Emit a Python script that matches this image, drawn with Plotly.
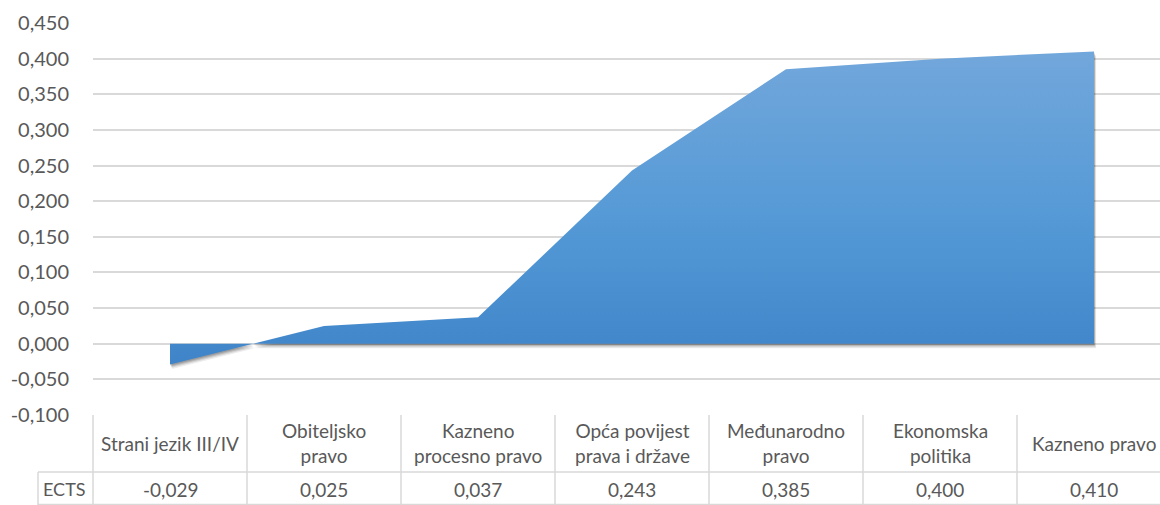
import plotly.graph_objects as go

# Subjects and their ECTS correlation values
categories = [
    "Strani jezik III/IV",
    "Obiteljsko<br>pravo",
    "Kazneno<br>procesno pravo",
    "Opća povijest<br>prava i države",
    "Međunarodno<br>pravo",
    "Ekonomska<br>politika",
    "Kazneno pravo",
]
ects_values = [-0.029, 0.025, 0.037, 0.243, 0.385, 0.400, 0.410]
series_name = "ECTS"
y_ticks = [-0.100, -0.050, 0.000, 0.050, 0.100, 0.150, 0.200, 0.250,
           0.300, 0.350, 0.400, 0.450]

FONT = "Lato"
TEXT = "#595959"
GRID = "#d9d9d9"

W, H = 1160, 505
L, R, T, B = 93, 0, 23, 90
plot_w = W - L - R
plot_h = H - T - B
COL_W = 154  # width of one category column; the last column runs past the right edge


def fmt(v):
    return f"{v:.3f}".replace(".", ",")


def px_x(px):
    return (px - L) / plot_w


def px_y(py):
    return (H - B - py) / plot_h


idx = list(range(len(categories)))
fig = go.Figure()

# soft drop shadow under the area (layers of offset translucent polygons)
poly_x = idx + idx[::-1]
poly_y = ects_values + [0.0] * len(idx)
for dx, dy, a in [(0.014, -0.0065, 0.07), (0.010, -0.0048, 0.10),
                  (0.006, -0.0032, 0.13), (0.003, -0.0018, 0.15)]:
    fig.add_trace(go.Scatter(
        x=[v + dx for v in poly_x], y=[v + dy for v in poly_y],
        mode="lines", fill="toself", line=dict(width=0),
        fillcolor=f"rgba(0,0,0,{a})", hoverinfo="skip", showlegend=False,
    ))

# main area with vertical gradient
fig.add_trace(go.Scatter(
    x=poly_x, y=poly_y, mode="lines", fill="toself",
    line=dict(width=0, color="#5b9bd5"),
    fillgradient=dict(type="vertical",
                      colorscale=[[0, "#3f84c8"], [0.45, "#5499d6"], [1, "#72a7db"]]),
    name=series_name, showlegend=False,
))

shapes = []
top_py, mid_py, bot_py = H - B, 472, 505
line_style = dict(color=GRID, width=1.5)
# horizontal rules of the data table
shapes.append(dict(type="line", xref="paper", yref="paper", x0=px_x(38), x1=px_x(W),
                   y0=px_y(mid_py), y1=px_y(mid_py), line=line_style))
shapes.append(dict(type="line", xref="paper", yref="paper", x0=px_x(38), x1=px_x(W),
                   y0=px_y(bot_py - 0.5), y1=px_y(bot_py - 0.5), line=line_style))
shapes.append(dict(type="line", xref="paper", yref="paper", x0=px_x(38), x1=px_x(38),
                   y0=px_y(mid_py), y1=px_y(bot_py), line=line_style))
for k in range(len(categories)):
    xp = px_x(L + k * COL_W)
    shapes.append(dict(type="line", xref="paper", yref="paper", x0=xp, x1=xp,
                       y0=px_y(top_py), y1=px_y(bot_py), line=line_style))

annotations = []
for k, (cat, v) in enumerate(zip(categories, ects_values)):
    xc = px_x(L + (k + 0.5) * COL_W)
    annotations.append(dict(text=cat, xref="paper", yref="paper", x=xc,
                            y=px_y((top_py + mid_py) / 2), xanchor="center", yanchor="middle",
                            showarrow=False, font=dict(family=FONT, size=19, color=TEXT)))
    annotations.append(dict(text=fmt(v), xref="paper", yref="paper", x=xc,
                            y=px_y((mid_py + bot_py) / 2 + 0.5), xanchor="center", yanchor="middle",
                            showarrow=False, font=dict(family=FONT, size=19, color=TEXT)))
annotations.append(dict(text=series_name, xref="paper", yref="paper", x=px_x(64),
                        y=px_y((mid_py + bot_py) / 2 + 0.5), xanchor="center", yanchor="middle",
                        showarrow=False, font=dict(family=FONT, size=18, color=TEXT)))

fig.update_layout(
    width=W, height=H,
    margin=dict(l=L, r=R, t=T, b=B),
    paper_bgcolor="white", plot_bgcolor="white",
    showlegend=False,
    shapes=shapes, annotations=annotations,
    xaxis=dict(range=[-0.5, -0.5 + plot_w / COL_W], showticklabels=False,
               showgrid=False, zeroline=False, showline=False, fixedrange=True),
    yaxis=dict(range=[y_ticks[0], y_ticks[-1]], tickvals=y_ticks,
               ticktext=[fmt(v) for v in y_ticks],
               showgrid=True, gridcolor=GRID, gridwidth=1.5,
               zeroline=False, showline=False, ticks="", ticklabelstandoff=23,
               tickfont=dict(family=FONT, size=20, color=TEXT)),
)

fig.write_html("out.html")
